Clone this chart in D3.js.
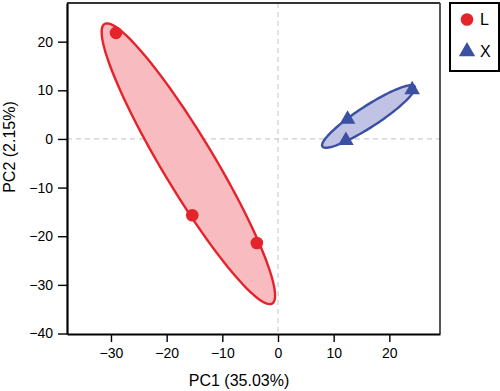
<!DOCTYPE html>
<html>
<head>
<meta charset="utf-8">
<script src="https://cdn.jsdelivr.net/npm/d3@7"></script>
<style>
  body { margin: 0; background: #fff; }
  svg { display: block; font-family: "Liberation Sans", Arial, Helvetica, sans-serif; }
</style>
</head>
<body>
<svg id="chart" width="500" height="391"></svg>
<script>
// scores
var groups = ['L', 'X']
var pc1L = [-29.1, -15.4, -3.8]
var pc2L = [21.8, -15.7, -21.4]
var pc1X = [24.1, 12.5, 12.2]
var pc2X = [10.1, 4.05, -0.3]
var xTicks = [-30, -20, -10, 0, 10, 20]
var yTicks = [20, 10, 0, -10, -20, -30, -40]
var xTitle = 'PC1 (35.03%)'
var yTitle = 'PC2 (2.15%)'

var colors = {
  L: { stroke: '#e5232b', fill: '#f8bcc0' },
  X: { stroke: '#3a50a2', fill: '#c0c3e4' }
}

var svg = d3.select('#chart')
var margin = { top: 3, left: 67, bottom: 57, right: 60 }
var width = +svg.attr('width')
var height = +svg.attr('height')
var chartWidth = width - margin.left - margin.right
var chartHeight = height - margin.top - margin.bottom

var x = d3.scaleLinear().domain([-37.9, 29.1]).range([0, chartWidth])
var y = d3.scaleLinear().domain([-40.1, 27.95]).range([chartHeight, 0])

var g = svg.append('g')
  .attr('transform', 'translate(' + margin.left + ',' + margin.top + ')')

// zero reference lines
g.append('line')
  .attr('x1', x(0)).attr('x2', x(0))
  .attr('y1', 0).attr('y2', chartHeight)
  .attr('stroke', '#c9ced8').attr('stroke-width', 1.2)
  .attr('stroke-dasharray', '5,4')
g.append('line')
  .attr('x1', 0).attr('x2', chartWidth)
  .attr('y1', y(0)).attr('y2', y(0))
  .attr('stroke', '#c9ced8').attr('stroke-width', 1.2)
  .attr('stroke-dasharray', '5,4')

// confidence ellipse from the sample covariance of each group
function ellipsePoints (xs, ys, k) {
  var n = xs.length
  var mx = d3.mean(xs)
  var my = d3.mean(ys)
  var sxx = 0, syy = 0, sxy = 0
  for (var i = 0; i < n; i++) {
    sxx += (xs[i] - mx) * (xs[i] - mx)
    syy += (ys[i] - my) * (ys[i] - my)
    sxy += (xs[i] - mx) * (ys[i] - my)
  }
  sxx /= n - 1; syy /= n - 1; sxy /= n - 1
  // cholesky factor
  var a = Math.sqrt(sxx)
  var b = sxy / a
  var c = Math.sqrt(syy - b * b)
  return d3.range(0, 120).map(function (j) {
    var t = j / 120 * 2 * Math.PI
    var u = Math.cos(t), v = Math.sin(t)
    return [mx + k * a * u, my + k * (b * u + c * v)]
  })
}

var line = d3.line()
  .x(function (d) { return x(d[0]) })
  .y(function (d) { return y(d[1]) })
  .curve(d3.curveLinearClosed)

var data = {
  L: { xs: pc1L, ys: pc2L },
  X: { xs: pc1X, ys: pc2X }
}

groups.forEach(function (k) {
  g.append('path')
    .datum(ellipsePoints(data[k].xs, data[k].ys, 1.23))
    .attr('fill', colors[k].fill)
    .attr('stroke', colors[k].stroke)
    .attr('stroke-width', 2.4)
    .attr('d', line)
})

g.selectAll('circle.pt')
  .data(d3.zip(pc1L, pc2L)).enter().append('circle')
  .attr('class', 'pt')
  .attr('cx', function (d) { return x(d[0]) })
  .attr('cy', function (d) { return y(d[1]) })
  .attr('r', 6.3)
  .attr('fill', colors.L.stroke)

var tri = d3.symbol().type(d3.symbolTriangle).size(105)
g.selectAll('path.tri')
  .data(d3.zip(pc1X, pc2X)).enter().append('path')
  .attr('class', 'tri')
  .attr('transform', function (d) { return 'translate(' + x(d[0]) + ',' + y(d[1]) + ')' })
  .attr('d', tri)
  .attr('fill', colors.X.stroke)

// frame
g.append('line').attr('x1', 0).attr('x2', chartWidth).attr('y1', 0).attr('y2', 0)
  .attr('stroke', '#333').attr('stroke-width', 1.8)
g.append('line').attr('x1', chartWidth).attr('x2', chartWidth).attr('y1', 0).attr('y2', chartHeight)
  .attr('stroke', '#444').attr('stroke-width', 1.8)

var gXaxis = g.append('g')
  .attr('transform', 'translate(0,' + chartHeight + ')')
  .call(d3.axisBottom(x).tickValues(xTicks).tickSize(8).tickPadding(6).tickSizeOuter(0)
    .tickFormat(d3.format('d')))
var gYaxis = g.append('g')
  .call(d3.axisLeft(y).tickValues(yTicks).tickSize(9).tickPadding(5).tickSizeOuter(0)
    .tickFormat(d3.format('d')))

;[gXaxis, gYaxis].forEach(function (ax) {
  ax.select('.domain').attr('stroke', '#000').attr('stroke-width', 2.2)
  ax.selectAll('.tick line').attr('stroke', '#000').attr('stroke-width', 1.4)
  ax.selectAll('.tick text')
    .attr('font-size', 14).attr('fill', '#000')
    .attr('font-family', '"Liberation Sans", Arial, Helvetica, sans-serif')
})

svg.append('text')
  .attr('x', 239).attr('y', 386)
  .attr('text-anchor', 'middle')
  .attr('font-size', 16)
  .text(xTitle)

svg.append('text')
  .attr('transform', 'translate(15,147) rotate(-90)')
  .attr('text-anchor', 'middle')
  .attr('font-size', 16)
  .text(yTitle)

// legend
var gLegend = svg.append('g').attr('transform', 'translate(450,3)')
gLegend.append('rect')
  .attr('width', 49).attr('height', 68)
  .attr('fill', '#fff').attr('stroke', '#000').attr('stroke-width', 2)
gLegend.append('circle')
  .attr('cx', 17).attr('cy', 16.5).attr('r', 6.3)
  .attr('fill', colors.L.stroke)
gLegend.append('path')
  .attr('transform', 'translate(17,48.5)')
  .attr('d', d3.symbol().type(d3.symbolTriangle).size(115))
  .attr('fill', colors.X.stroke)
gLegend.selectAll('text.lab')
  .data(groups).enter().append('text')
  .attr('class', 'lab')
  .attr('x', 30)
  .attr('y', function (d, i) { return 22 + i * 32 })
  .attr('font-size', 16)
  .text(function (d) { return d })
</script>
</body>
</html>
